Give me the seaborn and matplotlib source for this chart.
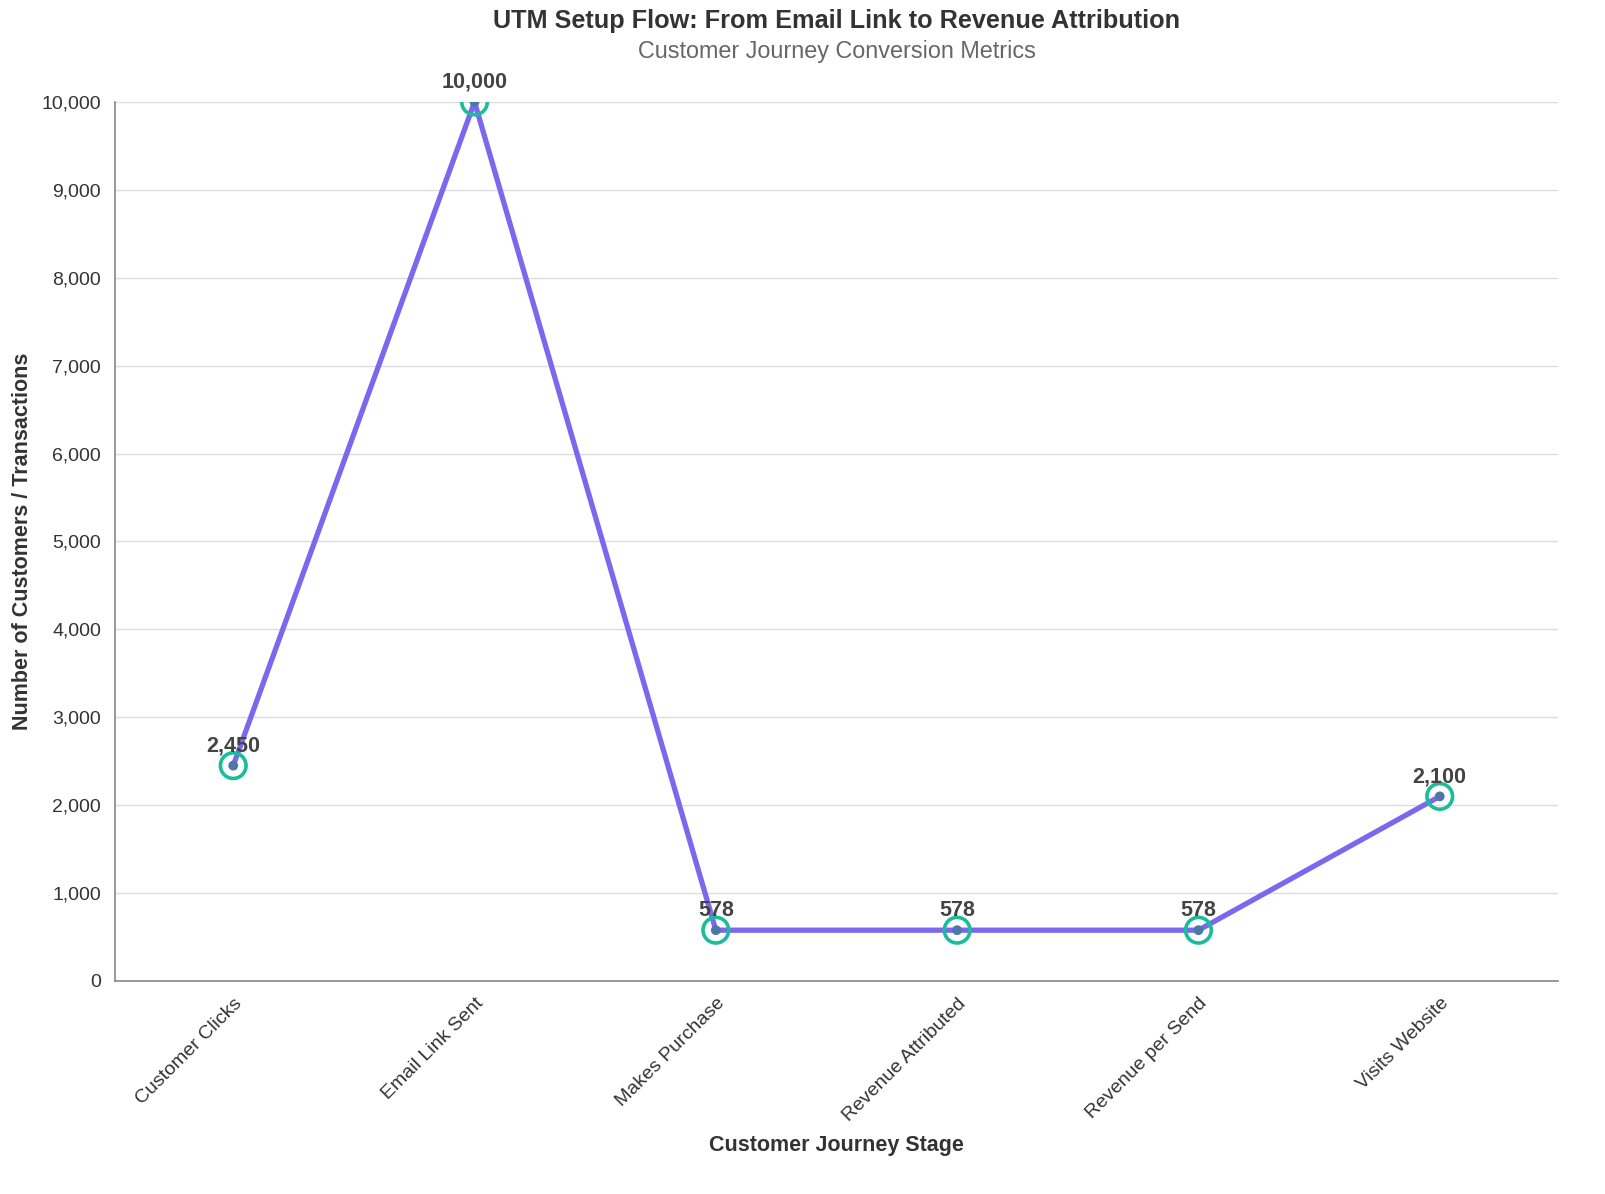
import pandas as pd
import matplotlib
matplotlib.use("Agg")
import matplotlib.pyplot as plt
import seaborn as sns
from matplotlib.ticker import FuncFormatter, MultipleLocator

# chart data
stages = ["Customer Clicks", "Email Link Sent", "Makes Purchase",
          "Revenue Attributed", "Revenue per Send", "Visits Website"]
counts = [2450, 10000, 578, 578, 578, 2100]

df = pd.DataFrame({"stage": stages, "count": counts})

sns.set_theme(style="white")
plt.rcParams["font.family"] = ["Liberation Sans", "DejaVu Sans"]

fig = plt.figure(figsize=(16.06, 11.94), dpi=100)
ax = fig.add_axes([0.0716, 0.1784, 0.8985, 0.7362])

# line + markers
sns.lineplot(data=df, x="stage", y="count", sort=False, color="#7B68EE",
             linewidth=3.8, ax=ax, zorder=2)
sns.scatterplot(data=df, x="stage", y="count", s=340, facecolor="none",
                edgecolor="#1ABC9C", linewidth=2.6, ax=ax, zorder=3)
sns.scatterplot(data=df, x="stage", y="count", s=50, color="#4C78A8",
                edgecolor="none", ax=ax, zorder=4)

# value labels
for i, v in enumerate(counts):
    ax.annotate(f"{v:,}", (i, v), xytext=(0, 14), textcoords="offset pixels",
                ha="center", va="baseline", fontsize=15.5, fontweight="bold",
                color="#444444", zorder=5)

ax.set_xlim(-0.49, len(stages) - 0.51)
ax.set_ylim(0, 10000)
ax.yaxis.set_major_locator(MultipleLocator(1000))
ax.yaxis.set_major_formatter(FuncFormatter(lambda v, p: f"{int(v):,}"))
ax.grid(axis="y", color="#dddddd", linewidth=1.0)
ax.set_axisbelow(True)

for side in ["top", "right"]:
    ax.spines[side].set_visible(False)
for side in ["left", "bottom"]:
    ax.spines[side].set_color("#888888")
    ax.spines[side].set_linewidth(1.2)

ax.tick_params(axis="both", direction="out", length=6, width=1.2,
               color="#888888", labelcolor="#333333", labelsize=14)
ax.tick_params(axis="y", pad=4)
ax.tick_params(axis="x", pad=4)
plt.setp(ax.get_xticklabels(), rotation=45, ha="right", va="top",
         rotation_mode="anchor")

ax.set_xlabel("Customer Journey Stage", fontsize=15.5, fontweight="bold",
              color="#333333")
ax.set_ylabel("Number of Customers / Transactions", fontsize=15.5,
              fontweight="bold", color="#333333")
ax.xaxis.set_label_coords(0.5, -0.1866)
ax.xaxis.label.set_va("center")
ax.yaxis.set_label_coords(-0.0644, 0.5)
ax.yaxis.label.set_va("center")

fig.text(0.5209, 0.982, "UTM Setup Flow: From Email Link to Revenue Attribution",
         ha="center", va="center", fontsize=18.2, fontweight="bold", color="#333333")
fig.text(0.5209, 0.957, "Customer Journey Conversion Metrics",
         ha="center", va="center", fontsize=16.8, color="#666666")

fig.savefig("out.png", dpi=100, facecolor="white")
